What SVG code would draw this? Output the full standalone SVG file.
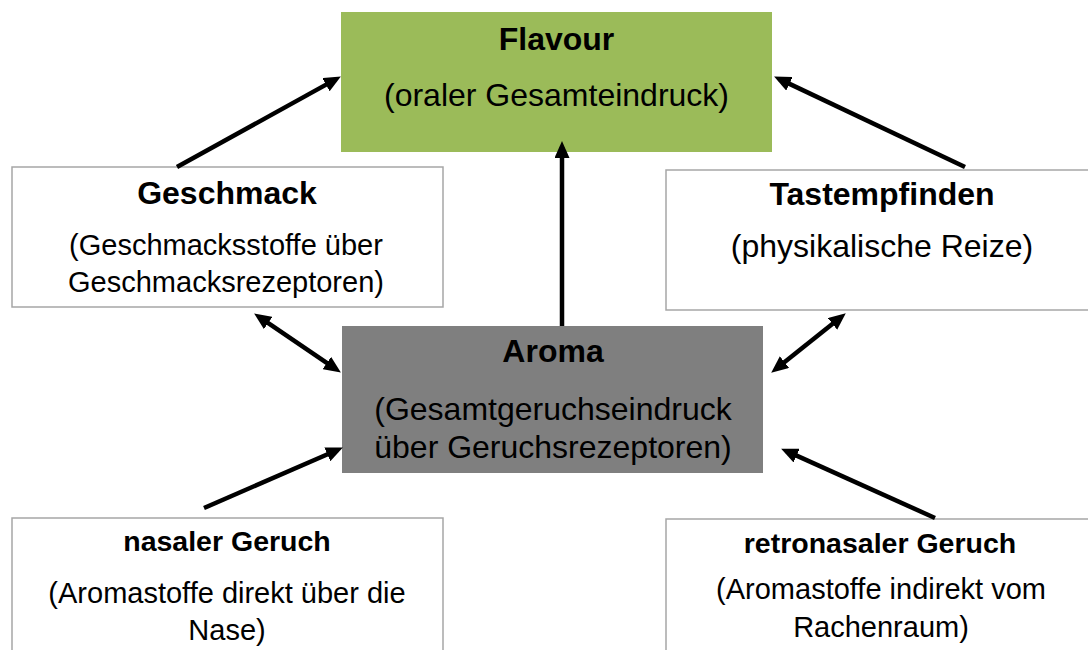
<svg xmlns="http://www.w3.org/2000/svg" width="1088" height="650" viewBox="0 0 1088 650">
<style>
.box{fill:#ffffff;stroke:#a6a6a6;stroke-width:1.5}
.t{font-family:"Liberation Sans",Arial,sans-serif;fill:#000;text-anchor:middle}
.b{font-weight:bold}
.conn{stroke:#000;stroke-width:4.5;fill:none}
</style>
<defs>
<marker id="ah" viewBox="0 0 17 15" refX="11" refY="7.5" markerWidth="17" markerHeight="15" markerUnits="userSpaceOnUse" orient="auto-start-reverse">
<path d="M0,0 L17,7.5 L0,15 z" fill="#000"/>
</marker>
</defs>
<rect width="1088" height="650" fill="#ffffff"/>
<g id="flavour">
<rect x="341" y="12" width="431" height="140" fill="#9bbb59"/>
<text class="t b" x="556.5" y="50" font-size="32">Flavour</text>
<text class="t" x="556.5" y="106" font-size="32">(oraler Gesamteindruck)</text>
</g>
<g id="geschmack">
<rect class="box" x="12" y="167" width="431" height="140"/>
<text class="t b" x="227" y="204" font-size="32">Geschmack</text>
<text class="t" x="226" y="255" font-size="29">(Geschmacksstoffe über</text>
<text class="t" x="226" y="292" font-size="29">Geschmacksrezeptoren)</text>
</g>
<g id="tastempfinden">
<rect class="box" x="666" y="170" width="431" height="140"/>
<text class="t b" x="882" y="205" font-size="32">Tastempfinden</text>
<text class="t" x="882" y="257" font-size="32">(physikalische Reize)</text>
</g>
<g id="aroma">
<rect x="342" y="326" width="421" height="147" fill="#7f7f7f"/>
<text class="t b" x="553" y="362" font-size="32">Aroma</text>
<text class="t" x="553" y="420" font-size="32">(Gesamtgeruchseindruck</text>
<text class="t" x="553" y="458" font-size="32">über Geruchsrezeptoren)</text>
</g>
<g id="nasal">
<rect class="box" x="12" y="518" width="431" height="150"/>
<text class="t b" x="227" y="551" font-size="28.5">nasaler Geruch</text>
<text class="t" x="227" y="603" font-size="29">(Aromastoffe direkt über die</text>
<text class="t" x="227" y="640" font-size="29">Nase)</text>
</g>
<g id="retronasal">
<rect class="box" x="666" y="519" width="431" height="150"/>
<text class="t b" x="880" y="553" font-size="28.5">retronasaler Geruch</text>
<text class="t" x="881" y="599" font-size="29">(Aromastoffe indirekt vom</text>
<text class="t" x="881" y="637" font-size="29">Rachenraum)</text>
</g>
<g id="connectors">
<line class="conn" x1="177" y1="167" x2="335.6" y2="79.4" marker-end="url(#ah)"/>
<line class="conn" x1="965" y1="167" x2="779.5" y2="79.1" marker-end="url(#ah)"/>
<line class="conn" x1="562" y1="326" x2="562" y2="147" marker-end="url(#ah)"/>
<line class="conn" x1="259.1" y1="316.8" x2="335.9" y2="369.2" marker-start="url(#ah)" marker-end="url(#ah)"/>
<line class="conn" x1="841.1" y1="317.1" x2="775.9" y2="368.9" marker-start="url(#ah)" marker-end="url(#ah)"/>
<line class="conn" x1="204" y1="508" x2="337.4" y2="450" marker-end="url(#ah)"/>
<line class="conn" x1="935" y1="518" x2="786.6" y2="451.1" marker-end="url(#ah)"/>
</g>
</svg>
